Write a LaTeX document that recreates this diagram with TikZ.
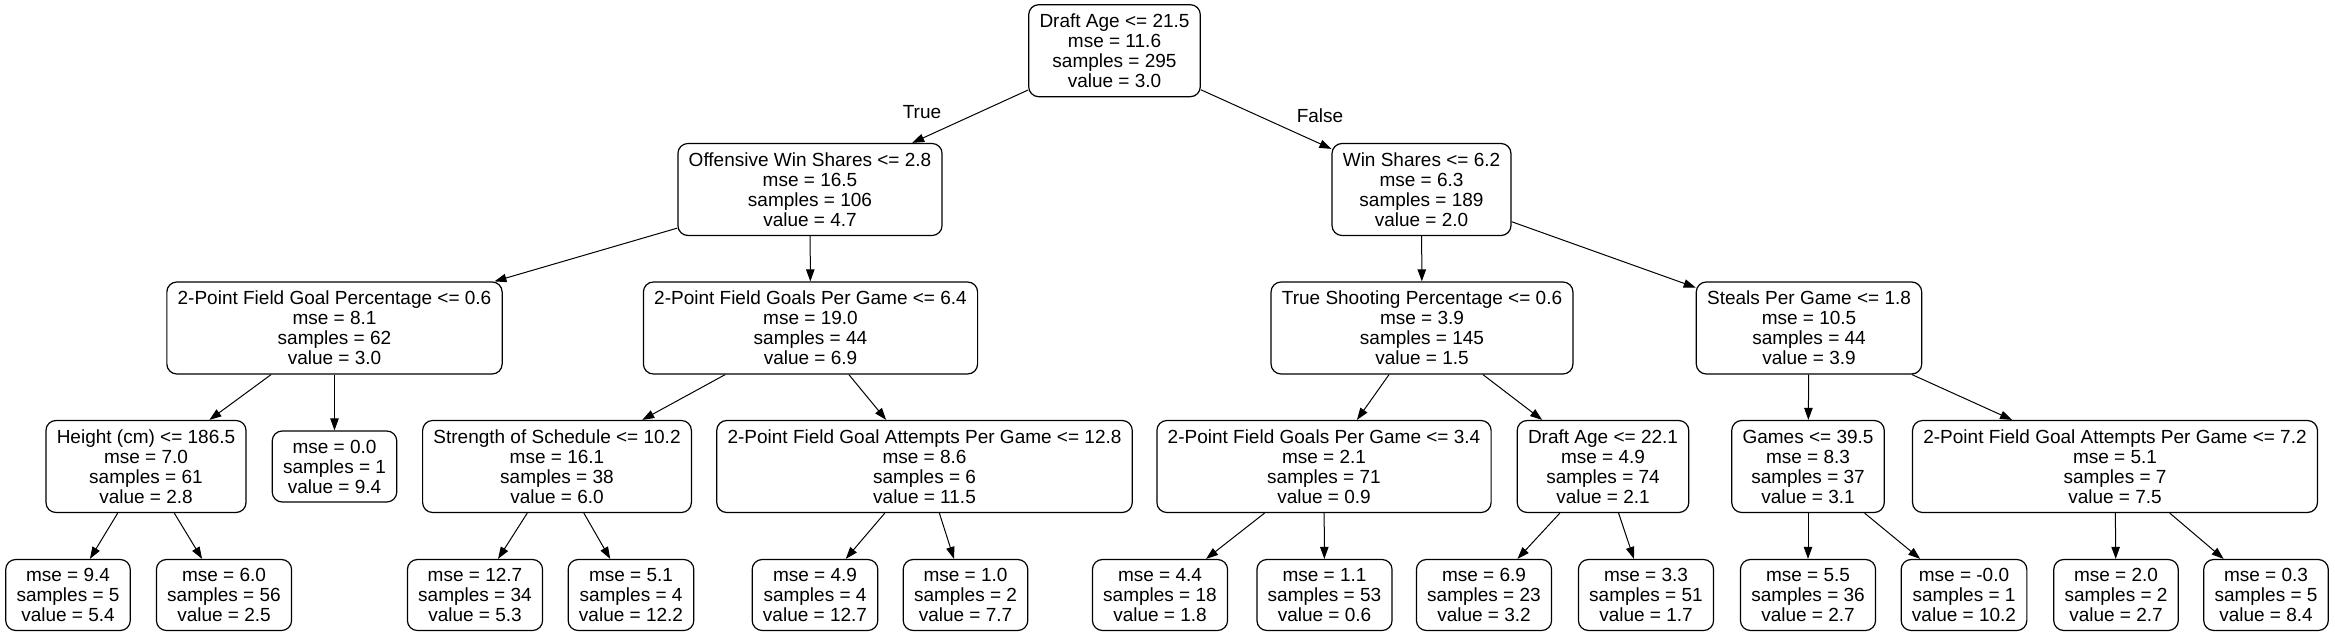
\documentclass[tikz,border=0pt]{standalone}
\usepackage{fontspec}
\setmainfont{Liberation Sans}
\usetikzlibrary{arrows.meta}

\begin{document}
\begin{tikzpicture}[x=0.5pt,y=-0.5pt,
  split/.style={draw,line width=0.6pt,rounded corners=5pt,align=center,
    inner xsep=5.4pt,inner ysep=1pt,minimum height=46pt,
    font=\fontsize{9.5}{10}\selectfont},
  leaf/.style={split,minimum height=35.5pt},
  edge/.style={-{Triangle[length=6pt,width=4.2pt]},line width=0.5pt},
  elabel/.style={font=\fontsize{9.5}{10}\selectfont}]
\useasboundingbox (0,0) rectangle (2335,636);
% level 0 and 1
\node [split] (root) at (1114.5,50.7) {Draft Age <= 21.5\\mse = 11.6\\samples = 295\\value = 3.0};
\node [split] (ows) at (810,189.5) {Offensive Win Shares <= 2.8\\mse = 16.5\\samples = 106\\value = 4.7};
\node [split] (ws) at (1421.5,189.5) {Win Shares <= 6.2\\mse = 6.3\\samples = 189\\value = 2.0};
% level 2
\node [split] (fgp) at (334.5,328) {2-Point Field Goal Percentage <= 0.6\\mse = 8.1\\samples = 62\\value = 3.0};
\node [split] (fgpg) at (810.5,328) {2-Point Field Goals Per Game <= 6.4\\mse = 19.0\\samples = 44\\value = 6.9};
\node [split] (tsp) at (1422,328) {True Shooting Percentage <= 0.6\\mse = 3.9\\samples = 145\\value = 1.5};
\node [split] (spg) at (1809,328) {Steals Per Game <= 1.8\\mse = 10.5\\samples = 44\\value = 3.9};
% level 3
\node [split] (hgt) at (146,466.5) {Height (cm) <= 186.5\\mse = 7.0\\samples = 61\\value = 2.8};
\node [leaf] (lfa) at (334.5,466.5) {mse = 0.0\\samples = 1\\value = 9.4};
\node [split] (sos) at (557,466.5) {Strength of Schedule <= 10.2\\mse = 16.1\\samples = 38\\value = 6.0};
\node [split] (fgaa) at (924.5,466.5) {2-Point Field Goal Attempts Per Game <= 12.8\\mse = 8.6\\samples = 6\\value = 11.5};
\node [split] (fgpgb) at (1324,466.5) {2-Point Field Goals Per Game <= 3.4\\mse = 2.1\\samples = 71\\value = 0.9};
\node [split] (dab) at (1603,466.5) {Draft Age <= 22.1\\mse = 4.9\\samples = 74\\value = 2.1};
\node [split] (gms) at (1808,466.5) {Games <= 39.5\\mse = 8.3\\samples = 37\\value = 3.1};
\node [split] (fgab) at (2115,466.5) {2-Point Field Goal Attempts Per Game <= 7.2\\mse = 5.1\\samples = 7\\value = 7.5};
% level 4
\node [leaf] (l1) at (68,595) {mse = 9.4\\samples = 5\\value = 5.4};
\node [leaf] (l2) at (224,595) {mse = 6.0\\samples = 56\\value = 2.5};
\node [leaf] (l3) at (475,595) {mse = 12.7\\samples = 34\\value = 5.3};
\node [leaf] (l4) at (631,595) {mse = 5.1\\samples = 4\\value = 12.2};
\node [leaf] (l5) at (815,595) {mse = 4.9\\samples = 4\\value = 12.7};
\node [leaf] (l6) at (965.5,595) {mse = 1.0\\samples = 2\\value = 7.7};
\node [leaf] (l7) at (1160,595) {mse = 4.4\\samples = 18\\value = 1.8};
\node [leaf] (l8) at (1324.5,595) {mse = 1.1\\samples = 53\\value = 0.6};
\node [leaf] (l9) at (1484,595) {mse = 6.9\\samples = 23\\value = 3.2};
\node [leaf] (l10) at (1646,595) {mse = 3.3\\samples = 51\\value = 1.7};
\node [leaf] (l11) at (1808,595) {mse = 5.5\\samples = 36\\value = 2.7};
\node [leaf] (l12) at (1964,595) {mse = -0.0\\samples = 1\\value = 10.2};
\node [leaf] (l13) at (2116,595) {mse = 2.0\\samples = 2\\value = 2.7};
\node [leaf] (l14) at (2266,595) {mse = 0.3\\samples = 5\\value = 8.4};
% edge labels
\node [elabel] (true) at (922,112) {True};
\node [elabel] (false) at (1320,116) {False};
% edges
\draw [edge] (root) -- (ows);
\draw [edge] (root) -- (ws);
\draw [edge] (ows) -- (fgp);
\draw [edge] (ows) -- (fgpg);
\draw [edge] (ws) -- (tsp);
\draw [edge] (ws) -- (spg);
\draw [edge] (fgp) -- (hgt);
\draw [edge] (fgp) -- (lfa);
\draw [edge] (fgpg) -- (sos);
\draw [edge] (fgpg) -- (fgaa);
\draw [edge] (tsp) -- (fgpgb);
\draw [edge] (tsp) -- (dab);
\draw [edge] (spg) -- (gms);
\draw [edge] (spg) -- (fgab);
\draw [edge] (hgt) -- (l1);
\draw [edge] (hgt) -- (l2);
\draw [edge] (sos) -- (l3);
\draw [edge] (sos) -- (l4);
\draw [edge] (fgaa) -- (l5);
\draw [edge] (fgaa) -- (l6);
\draw [edge] (fgpgb) -- (l7);
\draw [edge] (fgpgb) -- (l8);
\draw [edge] (dab) -- (l9);
\draw [edge] (dab) -- (l10);
\draw [edge] (gms) -- (l11);
\draw [edge] (gms) -- (l12);
\draw [edge] (fgab) -- (l13);
\draw [edge] (fgab) -- (l14);
\end{tikzpicture}
\end{document}
